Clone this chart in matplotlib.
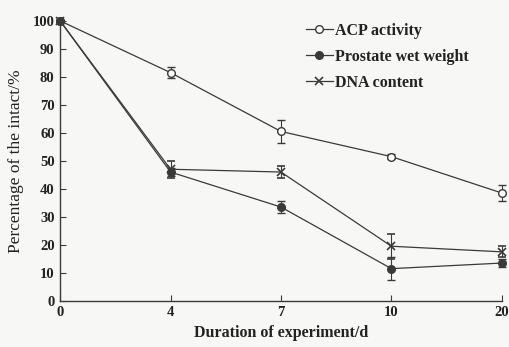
import matplotlib
matplotlib.use('Agg')
import matplotlib.pyplot as plt
from matplotlib.lines import Line2D
import numpy as np

days = ['0', '4', '7', '10', '20']

acp = [100, 81.5, 60.5, 51.5, 38.5]
acp_err = [0, 2.0, 4.0, 1.0, 3.0]

wet_weight = [100, 46, 33.5, 11.5, 13.5]
wet_weight_err = [0, 1.5, 2.0, 4.0, 1.5]

dna = [100, 47, 46, 19.5, 17.5]
dna_err = [0, 3.0, 2.0, 4.5, 2.0]

plt.rcParams['font.family'] = ['Liberation Serif', 'DejaVu Serif']
plt.rcParams['font.weight'] = 'bold'

fig = plt.figure(figsize=(5.09, 3.47), dpi=100)
fig.patch.set_facecolor('#f7f7f5')
ax = fig.add_axes([0.118, 0.133, 0.868, 0.807])
ax.set_facecolor('#f7f7f5')

x = np.arange(len(days))
col = '#3a3a3a'

ax.errorbar(x, acp, yerr=acp_err, color=col, lw=0.9, marker='o', ms=5.5,
            mfc='white', mec=col, mew=1.0, capsize=3, elinewidth=0.8,
            clip_on=False, zorder=3)
ax.errorbar(x, wet_weight, yerr=wet_weight_err, color=col, lw=0.9, marker='o',
            ms=5.5, mfc=col, mec=col, capsize=3, elinewidth=0.8,
            clip_on=False, zorder=3)
ax.errorbar(x, dna, yerr=dna_err, color=col, lw=0.9, marker='x', ms=6,
            mew=1.2, capsize=3, elinewidth=0.8,
            clip_on=False, zorder=3)

ax.set_xlim(0, 4)
ax.set_ylim(0, 100)
ax.set_xticks(x)
ax.set_xticklabels(days)
ax.set_yticks(np.arange(0, 101, 10))

for s in ['top', 'right']:
    ax.spines[s].set_visible(False)
for s in ['left', 'bottom']:
    ax.spines[s].set_color(col)
    ax.spines[s].set_linewidth(1.0)

ax.tick_params(direction='in', length=4, color=col, labelsize=10.5, labelcolor='#222222')
ax.tick_params(axis='x', pad=4)
ax.tick_params(axis='y', pad=4)

ax.set_xlabel('Duration of experiment/d', fontsize=11.5, fontweight='bold', color='#222222', labelpad=4)
ax.set_ylabel('Percentage of the intact/%', fontsize=12.5, fontweight='normal', color='#222222', labelpad=6)

handles = [
    Line2D([], [], color=col, lw=0.9, marker='o', ms=5.5, mfc='white', mec=col),
    Line2D([], [], color=col, lw=0.9, marker='o', ms=5.5, mfc=col, mec=col),
    Line2D([], [], color=col, lw=0.9, marker='x', ms=6, mew=1.2),
]
labels = ['ACP activity', 'Prostate wet weight', 'DNA content']
leg = fig.legend(handles, labels, loc='upper left', bbox_to_anchor=(0.572, 0.975),
                 frameon=False, fontsize=11.5, handlelength=1.7, handletextpad=0.15,
                 labelspacing=0.62)
for t in leg.get_texts():
    t.set_color('#222222')

fig.savefig('out.png', dpi=100, facecolor=fig.get_facecolor())
